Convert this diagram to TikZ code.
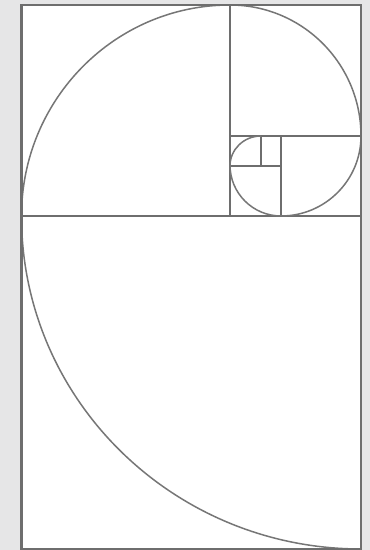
\documentclass[tikz,border=0pt]{standalone}
\usetikzlibrary{calc}
\definecolor{cbg}{HTML}{E6E6E7}
\definecolor{cline}{HTML}{6E6E6E}
\definecolor{carc}{HTML}{767676}

\begin{document}
\begin{tikzpicture}[
  x=1pt, y=1pt,
  frame/.style={draw=cline, line width=2.6pt, fill=white},
  cut/.style={draw=cline, line width=2.2pt},
  spiral/.style={draw=carc, line width=1.5pt},
  ]
% background and page
\fill[cbg] (0,0) rectangle (370,550);
\useasboundingbox (0,0) rectangle (370,550);
\coordinate (bl) at (21.5,1);
\coordinate (tr) at (361,545);
\path[frame] (bl) rectangle (tr);

% squares
\coordinate (a) at (21.5,334);
\coordinate (b) at (230,334);
\coordinate (c) at (230,414);
\coordinate (d) at (281,414);
\coordinate (e) at (281,384);
\coordinate (f) at (261,384);
\draw[cut] (a) -- (361,334);
\draw[cut] (b) -- (230,545);
\draw[cut] (c) -- (361,414);
\draw[cut] (d) -- (281,334);
\draw[cut] (230,384) -- (e);
\draw[cut] (f) -- (261,414);

% spiral
\draw[spiral] (a) arc[start angle=180, end angle=270, x radius=339.5, y radius=333];
\draw[spiral] (a) arc[start angle=180, end angle=90, x radius=208.5, y radius=211];
\draw[spiral] (230,545) arc[start angle=90, end angle=0, radius=131];
\draw[spiral] (361,414) arc[start angle=0, end angle=-90, radius=80];
\draw[spiral] (281,334) arc[start angle=270, end angle=180, radius=51];
\draw[spiral] (230,384) arc[start angle=180, end angle=90, x radius=31, y radius=30];

% redraw frame edges on top
\draw[cline, line width=2.6pt] (bl) rectangle (tr);
\end{tikzpicture}
\end{document}
